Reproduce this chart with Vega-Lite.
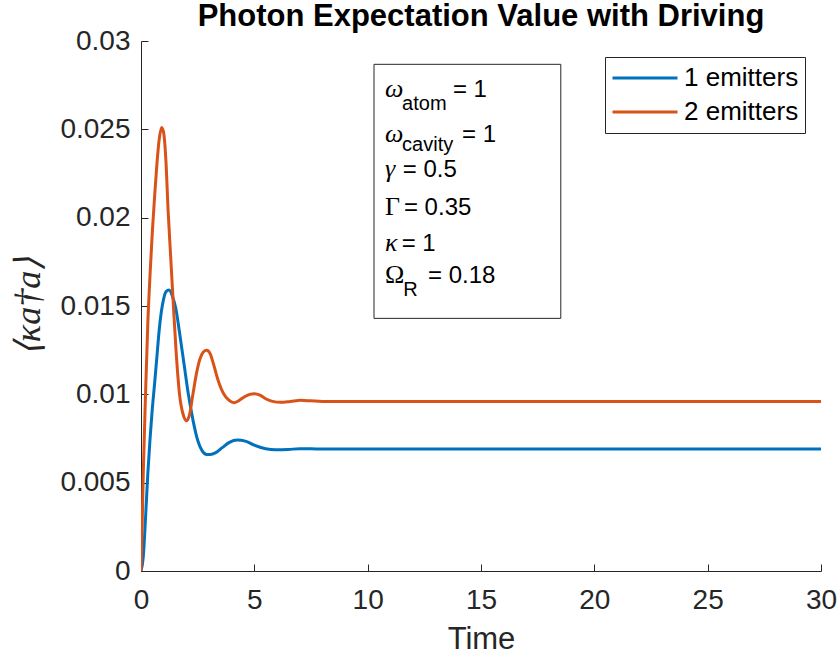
{
  "$schema": "https://vega.github.io/schema/vega-lite/v6.json",
  "width": 680,
  "height": 530,
  "autosize": {"type": "none"},
  "padding": {"left": 141, "top": 41, "right": 19, "bottom": 89},
  "background": "white",
  "title": {
    "text": "Photon Expectation Value with Driving",
    "font": "Liberation Sans",
    "fontSize": 31,
    "fontWeight": "bold",
    "color": "#000000",
    "anchor": "middle",
    "frame": "group",
    "baseline": "bottom",
    "offset": 0,
    "dy": 37
  },
  "config": {
    "view": {"stroke": null},
    "axis": {
      "domainColor": "#262626",
      "tickColor": "#262626",
      "labelColor": "#262626",
      "titleColor": "#262626",
      "labelFont": "Liberation Sans",
      "titleFont": "Liberation Sans",
      "grid": false,
      "tickSize": -7,
      "domainWidth": 1,
      "tickWidth": 1,
      "labelFlush": false
    }
  },
  "datasets": {
    "series": [
      {"t": 0, "v": 0, "s": "1 emitters"},
      {"t": 0.1, "v": 0.0008, "s": "1 emitters"},
      {"t": 0.2, "v": 0.003, "s": "1 emitters"},
      {"t": 0.3, "v": 0.0055, "s": "1 emitters"},
      {"t": 0.4, "v": 0.0075, "s": "1 emitters"},
      {"t": 0.5, "v": 0.0092, "s": "1 emitters"},
      {"t": 0.6, "v": 0.0106, "s": "1 emitters"},
      {"t": 0.7, "v": 0.0121, "s": "1 emitters"},
      {"t": 0.8, "v": 0.0136, "s": "1 emitters"},
      {"t": 0.9, "v": 0.0147, "s": "1 emitters"},
      {"t": 1.0, "v": 0.0154, "s": "1 emitters"},
      {"t": 1.1, "v": 0.0158, "s": "1 emitters"},
      {"t": 1.24, "v": 0.0159, "s": "1 emitters"},
      {"t": 1.4, "v": 0.0155, "s": "1 emitters"},
      {"t": 1.53, "v": 0.0149, "s": "1 emitters"},
      {"t": 1.7, "v": 0.0135, "s": "1 emitters"},
      {"t": 1.9, "v": 0.0117, "s": "1 emitters"},
      {"t": 2.09, "v": 0.01, "s": "1 emitters"},
      {"t": 2.3, "v": 0.0085, "s": "1 emitters"},
      {"t": 2.5, "v": 0.0074, "s": "1 emitters"},
      {"t": 2.7, "v": 0.0068, "s": "1 emitters"},
      {"t": 2.9, "v": 0.0066, "s": "1 emitters"},
      {"t": 3.05, "v": 0.0066, "s": "1 emitters"},
      {"t": 3.3, "v": 0.0067, "s": "1 emitters"},
      {"t": 3.6, "v": 0.007, "s": "1 emitters"},
      {"t": 3.9, "v": 0.00728, "s": "1 emitters"},
      {"t": 4.25, "v": 0.00741, "s": "1 emitters"},
      {"t": 4.6, "v": 0.00735, "s": "1 emitters"},
      {"t": 5.0, "v": 0.00712, "s": "1 emitters"},
      {"t": 5.5, "v": 0.00692, "s": "1 emitters"},
      {"t": 5.94, "v": 0.00686, "s": "1 emitters"},
      {"t": 6.5, "v": 0.00688, "s": "1 emitters"},
      {"t": 7.0, "v": 0.00692, "s": "1 emitters"},
      {"t": 7.5, "v": 0.00692, "s": "1 emitters"},
      {"t": 8, "v": 0.0069, "s": "1 emitters"},
      {"t": 9, "v": 0.0069, "s": "1 emitters"},
      {"t": 10, "v": 0.0069, "s": "1 emitters"},
      {"t": 12, "v": 0.0069, "s": "1 emitters"},
      {"t": 14, "v": 0.0069, "s": "1 emitters"},
      {"t": 16, "v": 0.0069, "s": "1 emitters"},
      {"t": 18, "v": 0.0069, "s": "1 emitters"},
      {"t": 20, "v": 0.0069, "s": "1 emitters"},
      {"t": 22, "v": 0.0069, "s": "1 emitters"},
      {"t": 24, "v": 0.0069, "s": "1 emitters"},
      {"t": 26, "v": 0.0069, "s": "1 emitters"},
      {"t": 28, "v": 0.0069, "s": "1 emitters"},
      {"t": 30, "v": 0.0069, "s": "1 emitters"},
      {"t": 0, "v": 0, "s": "2 emitters"},
      {"t": 0.05, "v": 0.0025, "s": "2 emitters"},
      {"t": 0.1, "v": 0.0055, "s": "2 emitters"},
      {"t": 0.2, "v": 0.01, "s": "2 emitters"},
      {"t": 0.3, "v": 0.014, "s": "2 emitters"},
      {"t": 0.4, "v": 0.0168, "s": "2 emitters"},
      {"t": 0.5, "v": 0.0192, "s": "2 emitters"},
      {"t": 0.6, "v": 0.0212, "s": "2 emitters"},
      {"t": 0.7, "v": 0.023, "s": "2 emitters"},
      {"t": 0.8, "v": 0.0244, "s": "2 emitters"},
      {"t": 0.91, "v": 0.0251, "s": "2 emitters"},
      {"t": 1.0, "v": 0.0248, "s": "2 emitters"},
      {"t": 1.1, "v": 0.0232, "s": "2 emitters"},
      {"t": 1.2, "v": 0.0203, "s": "2 emitters"},
      {"t": 1.3, "v": 0.018, "s": "2 emitters"},
      {"t": 1.43, "v": 0.015, "s": "2 emitters"},
      {"t": 1.55, "v": 0.0124, "s": "2 emitters"},
      {"t": 1.7, "v": 0.01, "s": "2 emitters"},
      {"t": 1.85, "v": 0.0089, "s": "2 emitters"},
      {"t": 2.02, "v": 0.0085, "s": "2 emitters"},
      {"t": 2.15, "v": 0.0089, "s": "2 emitters"},
      {"t": 2.29, "v": 0.01, "s": "2 emitters"},
      {"t": 2.45, "v": 0.0112, "s": "2 emitters"},
      {"t": 2.6, "v": 0.012, "s": "2 emitters"},
      {"t": 2.75, "v": 0.0124, "s": "2 emitters"},
      {"t": 2.9, "v": 0.0125, "s": "2 emitters"},
      {"t": 3.05, "v": 0.0123, "s": "2 emitters"},
      {"t": 3.2, "v": 0.0117, "s": "2 emitters"},
      {"t": 3.4, "v": 0.0108, "s": "2 emitters"},
      {"t": 3.66, "v": 0.01, "s": "2 emitters"},
      {"t": 3.85, "v": 0.0097, "s": "2 emitters"},
      {"t": 4.1, "v": 0.00953, "s": "2 emitters"},
      {"t": 4.3, "v": 0.00963, "s": "2 emitters"},
      {"t": 4.55, "v": 0.00985, "s": "2 emitters"},
      {"t": 4.8, "v": 0.01, "s": "2 emitters"},
      {"t": 5.0, "v": 0.01004, "s": "2 emitters"},
      {"t": 5.25, "v": 0.00995, "s": "2 emitters"},
      {"t": 5.5, "v": 0.00975, "s": "2 emitters"},
      {"t": 5.8, "v": 0.0096, "s": "2 emitters"},
      {"t": 6.16, "v": 0.00955, "s": "2 emitters"},
      {"t": 6.6, "v": 0.0096, "s": "2 emitters"},
      {"t": 7.04, "v": 0.00966, "s": "2 emitters"},
      {"t": 7.5, "v": 0.00963, "s": "2 emitters"},
      {"t": 8, "v": 0.0096, "s": "2 emitters"},
      {"t": 9, "v": 0.0096, "s": "2 emitters"},
      {"t": 10, "v": 0.0096, "s": "2 emitters"},
      {"t": 12, "v": 0.0096, "s": "2 emitters"},
      {"t": 14, "v": 0.0096, "s": "2 emitters"},
      {"t": 16, "v": 0.0096, "s": "2 emitters"},
      {"t": 18, "v": 0.0096, "s": "2 emitters"},
      {"t": 20, "v": 0.0096, "s": "2 emitters"},
      {"t": 22, "v": 0.0096, "s": "2 emitters"},
      {"t": 24, "v": 0.0096, "s": "2 emitters"},
      {"t": 26, "v": 0.0096, "s": "2 emitters"},
      {"t": 28, "v": 0.0096, "s": "2 emitters"},
      {"t": 30, "v": 0.0096, "s": "2 emitters"}
    ],
    "one": [{}]
  },
  "layer": [
    {
      "data": {"name": "series"},
      "mark": {"type": "line", "strokeWidth": 3, "interpolate": "monotone", "clip": true},
      "encoding": {
        "x": {
          "field": "t", "type": "quantitative",
          "scale": {"domain": [0, 30], "nice": false, "zero": false},
          "axis": {
            "values": [0, 5, 10, 15, 20, 25, 30],
            "title": "Time",
            "titleFontSize": 31,
            "titleFontWeight": "normal",
            "titlePadding": 10,
            "labelFontSize": 28,
            "labelPadding": 22
          }
        },
        "y": {
          "field": "v", "type": "quantitative",
          "scale": {"domain": [0, 0.03], "nice": false},
          "axis": {
            "values": [0, 0.005, 0.01, 0.015, 0.02, 0.025, 0.03],
            "format": "~g",
            "title": "⟨κa†a⟩",
            "titleFont": "Liberation Serif",
            "titleFontStyle": "italic",
            "titleFontWeight": "normal",
            "titleFontSize": 36,
            "titlePadding": 12,
            "labelFontSize": 28,
            "labelPadding": 18
          }
        },
        "color": {
          "field": "s", "type": "nominal",
          "scale": {"domain": ["1 emitters", "2 emitters"], "range": ["#0072BD", "#D95319"]},
          "legend": {
            "title": null,
            "orient": "top-right",
            "offset": 16,
            "fillColor": "white",
            "strokeColor": "#262626",
            "padding": 6,
            "symbolType": "stroke",
            "symbolSize": 4225,
            "symbolStrokeWidth": 3,
            "clipHeight": 30,
            "labelFont": "Liberation Sans",
            "labelFontSize": 26,
            "labelColor": "#000000",
            "labelOffset": 5,
            "labelLimit": 300,
            "rowPadding": 4
          }
        }
      }
    },
    {
      "data": {"name": "one"},
      "mark": {"type": "rect", "fill": "white", "stroke": "#262626", "strokeWidth": 1},
      "encoding": {
        "x": {"datum": 10.28, "type": "quantitative"},
        "x2": {"datum": 18.52},
        "y": {"datum": 0.02868, "type": "quantitative"},
        "y2": {"datum": 0.0143}
      }
    },
    {
      "data": {"name": "one"},
      "mark": {"type": "text", "text": "ω", "font": "Liberation Serif", "fontStyle": "italic", "fontSize": 26, "align": "left", "baseline": "alphabetic", "color": "#000000"},
      "encoding": {"x": {"datum": 10.77, "type": "quantitative"}, "y": {"datum": 0.02683, "type": "quantitative"}}
    },
    {
      "data": {"name": "one"},
      "mark": {"type": "text", "text": "atom", "font": "Liberation Sans", "fontSize": 20, "align": "left", "baseline": "alphabetic", "color": "#000000"},
      "encoding": {"x": {"datum": 11.52, "type": "quantitative"}, "y": {"datum": 0.02608, "type": "quantitative"}}
    },
    {
      "data": {"name": "one"},
      "mark": {"type": "text", "text": "= 1", "font": "Liberation Sans", "fontSize": 24, "align": "left", "baseline": "alphabetic", "color": "#000000"},
      "encoding": {"x": {"datum": 13.76, "type": "quantitative"}, "y": {"datum": 0.02683, "type": "quantitative"}}
    },
    {
      "data": {"name": "one"},
      "mark": {"type": "text", "text": "ω", "font": "Liberation Serif", "fontStyle": "italic", "fontSize": 26, "align": "left", "baseline": "alphabetic", "color": "#000000"},
      "encoding": {"x": {"datum": 10.77, "type": "quantitative"}, "y": {"datum": 0.02428, "type": "quantitative"}}
    },
    {
      "data": {"name": "one"},
      "mark": {"type": "text", "text": "cavity", "font": "Liberation Sans", "fontSize": 20, "align": "left", "baseline": "alphabetic", "color": "#000000"},
      "encoding": {"x": {"datum": 11.52, "type": "quantitative"}, "y": {"datum": 0.02378, "type": "quantitative"}}
    },
    {
      "data": {"name": "one"},
      "mark": {"type": "text", "text": "= 1", "font": "Liberation Sans", "fontSize": 24, "align": "left", "baseline": "alphabetic", "color": "#000000"},
      "encoding": {"x": {"datum": 14.16, "type": "quantitative"}, "y": {"datum": 0.02428, "type": "quantitative"}}
    },
    {
      "data": {"name": "one"},
      "mark": {"type": "text", "text": "γ", "font": "Liberation Serif", "fontStyle": "italic", "fontSize": 26, "align": "left", "baseline": "alphabetic", "color": "#000000"},
      "encoding": {"x": {"datum": 10.77, "type": "quantitative"}, "y": {"datum": 0.0223, "type": "quantitative"}}
    },
    {
      "data": {"name": "one"},
      "mark": {"type": "text", "text": "= 0.5", "font": "Liberation Sans", "fontSize": 24, "align": "left", "baseline": "alphabetic", "color": "#000000"},
      "encoding": {"x": {"datum": 11.55, "type": "quantitative"}, "y": {"datum": 0.0223, "type": "quantitative"}}
    },
    {
      "data": {"name": "one"},
      "mark": {"type": "text", "text": "Γ", "font": "Liberation Serif", "fontSize": 26, "align": "left", "baseline": "alphabetic", "color": "#000000"},
      "encoding": {"x": {"datum": 10.77, "type": "quantitative"}, "y": {"datum": 0.02014, "type": "quantitative"}}
    },
    {
      "data": {"name": "one"},
      "mark": {"type": "text", "text": "= 0.35", "font": "Liberation Sans", "fontSize": 24, "align": "left", "baseline": "alphabetic", "color": "#000000"},
      "encoding": {"x": {"datum": 11.6, "type": "quantitative"}, "y": {"datum": 0.02014, "type": "quantitative"}}
    },
    {
      "data": {"name": "one"},
      "mark": {"type": "text", "text": "κ", "font": "Liberation Serif", "fontStyle": "italic", "fontSize": 26, "align": "left", "baseline": "alphabetic", "color": "#000000"},
      "encoding": {"x": {"datum": 10.77, "type": "quantitative"}, "y": {"datum": 0.01812, "type": "quantitative"}}
    },
    {
      "data": {"name": "one"},
      "mark": {"type": "text", "text": "= 1", "font": "Liberation Sans", "fontSize": 24, "align": "left", "baseline": "alphabetic", "color": "#000000"},
      "encoding": {"x": {"datum": 11.5, "type": "quantitative"}, "y": {"datum": 0.01812, "type": "quantitative"}}
    },
    {
      "data": {"name": "one"},
      "mark": {"type": "text", "text": "Ω", "font": "Liberation Serif", "fontSize": 26, "align": "left", "baseline": "alphabetic", "color": "#000000"},
      "encoding": {"x": {"datum": 10.77, "type": "quantitative"}, "y": {"datum": 0.0163, "type": "quantitative"}}
    },
    {
      "data": {"name": "one"},
      "mark": {"type": "text", "text": "R", "font": "Liberation Sans", "fontSize": 20, "align": "left", "baseline": "alphabetic", "color": "#000000"},
      "encoding": {"x": {"datum": 11.57, "type": "quantitative"}, "y": {"datum": 0.01555, "type": "quantitative"}}
    },
    {
      "data": {"name": "one"},
      "mark": {"type": "text", "text": "= 0.18", "font": "Liberation Sans", "fontSize": 24, "align": "left", "baseline": "alphabetic", "color": "#000000"},
      "encoding": {"x": {"datum": 12.66, "type": "quantitative"}, "y": {"datum": 0.0163, "type": "quantitative"}}
    }
  ]
}
